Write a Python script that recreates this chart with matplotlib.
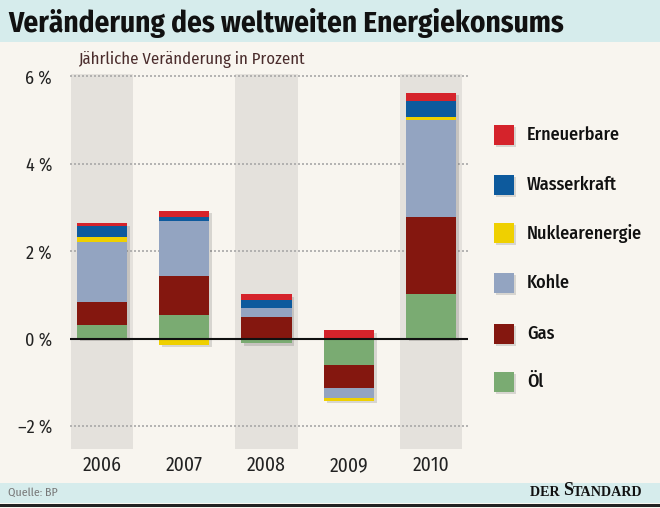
import numpy as np
import matplotlib
matplotlib.use("Agg")
import matplotlib.pyplot as plt
from matplotlib.patches import Rectangle
from matplotlib.text import Annotation

years = ["2006", "2007", "2008", "2009", "2010"]
sources = ["Öl", "Gas", "Kohle", "Nuklearenergie", "Wasserkraft", "Erneuerbare"]
oel = [0.31, 0.55, -0.10, -0.60, 1.02]
gas = [0.52, 0.88, 0.49, -0.52, 1.77]
kohle = [1.38, 1.27, 0.22, -0.24, 2.21]
nuklear = [0.11, -0.14, 0.00, -0.06, 0.08]
wasser = [0.26, 0.08, 0.18, 0.00, 0.37]
erneuerbar = [0.06, 0.15, 0.13, 0.20, 0.18]
yticks = [-2, 0, 2, 4, 6]

colors = {"Öl": "#7aab72", "Gas": "#84170f", "Kohle": "#93a4c1",
          "Nuklearenergie": "#efd000", "Wasserkraft": "#0d5a9d", "Erneuerbare": "#d5232b"}

BG = "#f8f5ef"
TEAL = "#d6ecec"
COND = ["Fira Sans Condensed", "DejaVu Sans"]
SERIF = ["Liberation Serif", "DejaVu Serif"]

fig = plt.figure(figsize=(6.6, 5.08), dpi=100, facecolor=BG)

# title and footer bands
fig.patches.append(Rectangle((0, 1 - 42 / 508), 1, 42 / 508, transform=fig.transFigure,
                             facecolor=TEAL, edgecolor="none", zorder=0))
fig.patches.append(Rectangle((0, 5 / 508), 1, 20 / 508, transform=fig.transFigure,
                             facecolor=TEAL, edgecolor="none", zorder=0))
fig.patches.append(Rectangle((0, 1 / 508), 1, 3 / 508, transform=fig.transFigure,
                             facecolor="#222222", edgecolor="none", zorder=0))
fig.text(0.012, 1 - 23 / 508, "Veränderung des weltweiten Energiekonsums",
         family=COND, weight="bold", fontsize=21, va="center", ha="left", color="#111111")
fig.text(0.012, 15 / 508, "Quelle: BP", family=COND, fontsize=8.5, color="#777777",
         va="center", ha="left")

# "DER STANDARD" in small caps, pieces chained left to right
prev = fig.text(530 / 660, 9 / 508, "DER ", family=SERIF, weight="bold", fontsize=10.2,
                color="#111111", va="bottom", ha="left")
for piece, size in [("S", 13), ("TANDARD", 10.2)]:
    prev = fig.add_artist(Annotation(piece, xy=(1, 0), xycoords=prev, family=SERIF,
                                     weight="bold", fontsize=size, color="#111111",
                                     va="bottom", ha="left"))

ax = fig.add_axes([70 / 660, (508 - 448.8) / 508, 398 / 660, (448.8 - 74.3) / 508])
ax.set_facecolor("none")
x = np.arange(len(years))
ax.set_xlim(-0.39, 4.45)
ax.set_ylim(-2.52, 6.05)

# grey columns behind every other year
for i in x[::2]:
    ax.axvspan(i - 0.38, i + 0.38, color="#e4e1dc", zorder=0, lw=0)

for t in yticks:
    if t != 0:
        ax.axhline(t, color="#a8a8a8", lw=1.2, ls=(0, (1.2, 1.2)), zorder=1)

data = [oel, gas, kohle, nuklear, wasser, erneuerbar]
w = 0.61
pos = np.zeros(len(years))
neg = np.zeros(len(years))
for name, vals in zip(sources, data):
    vals = np.array(vals)
    bottoms = np.where(vals >= 0, pos, neg)
    ax.bar(x, vals, w, bottom=bottoms, color=colors[name], lw=0, zorder=3)
    pos = pos + np.clip(vals, 0, None)
    neg = neg + np.clip(vals, None, 0)

# soft shadow of whole stacks
ax.bar(x + 0.035, pos - neg, w, bottom=neg - 0.06, color="#000000", alpha=0.13, lw=0, zorder=2)

ax.axhline(0, color="#111111", lw=1.5, zorder=4)

ax.set_xticks(x)
ax.set_xticklabels(years, family=COND, fontsize=14, color="#222222")
ax.set_yticks(yticks)
ax.set_yticklabels([f"{t} %".replace("-", "–") for t in yticks], family=COND, fontsize=13,
                   color="#222222")
ax.tick_params(length=0, pad=13)
ax.tick_params(axis="x", pad=5)
for s in ax.spines.values():
    s.set_visible(False)

fig.text(78 / 660, 1 - 60 / 508, "Jährliche Veränderung in Prozent", family=COND,
         fontsize=12, color="#4a2c2c", va="center", ha="left")

# legend
leg_rows = [135, 185, 233, 283, 334, 382]
for name, yy in zip(sources[::-1], leg_rows):
    fig.patches.append(Rectangle((496 / 660, 1 - (yy + 12) / 508), 20 / 660, 20 / 508,
                                 transform=fig.transFigure, facecolor="#000000", alpha=0.13,
                                 edgecolor="none"))
    fig.patches.append(Rectangle((494 / 660, 1 - (yy + 10) / 508), 20 / 660, 20 / 508,
                                 transform=fig.transFigure, facecolor=colors[name],
                                 edgecolor="none"))
    fig.text(527 / 660, 1 - yy / 508, name, family=COND, weight="medium", fontsize=13,
             color="#111111", va="center", ha="left")

fig.savefig("out.png", dpi=100, facecolor=BG)
